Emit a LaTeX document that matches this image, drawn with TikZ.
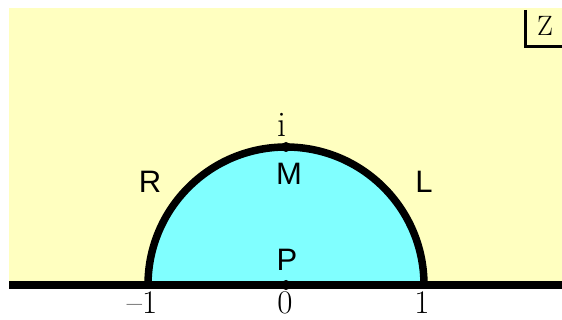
\documentclass[tikz,border=0pt]{standalone}
\usepackage{fontspec}
\newfontfamily\lblfont{Liberation Sans}
\definecolor{bgyellow}{RGB}{255,255,192}
\definecolor{diskcyan}{RGB}{128,255,255}
\begin{document}
\begin{tikzpicture}[x=1pt,y=-1pt,
  thick line/.style={line width=7.5pt},
  ptdot/.style={circle,fill=black,inner sep=0pt,minimum size=10pt},
  sanslbl/.style={font=\lblfont\fontsize{31}{31}\selectfont,inner sep=0pt},
  seriflbl/.style={font=\fontsize{36}{36}\selectfont,inner sep=0pt},
  numlbl/.style={font=\fontsize{33}{33}\selectfont,inner sep=0pt}]
\useasboundingbox (0,0) rectangle (562,320);
\fill[bgyellow] (9,8) rectangle (562,285);
\coordinate (C) at (286,285);
\fill[diskcyan] (148,285) arc[start angle=180,end angle=360,radius=138] -- cycle;
\draw[thick line] (148,285) arc[start angle=180,end angle=360,radius=138];
\coordinate (axL) at (9,285);
\coordinate (axR) at (562,285);
\draw[thick line] (axL) -- (axR);
\node[ptdot] (P) at (286,285) {};
\node[ptdot] (M) at (286,147) {};
\node[seriflbl,anchor=base] (ilbl) at (282,137) {i};
\node[sanslbl,anchor=base] (Mlbl) at (289,185) {M};
\node[sanslbl,anchor=base] (Plbl) at (287,271) {P};
\node[sanslbl,anchor=base] (Rlbl) at (150,193) {R};
\node[sanslbl,anchor=base] (Llbl) at (424,193) {L};
\node[numlbl,anchor=base] (m1) at (142,313) {–1};
\node[numlbl,anchor=base] (z0) at (285,313) {0};
\node[numlbl,anchor=base] (p1) at (422,313) {1};
\coordinate (zt) at (525,10);
\coordinate (zc) at (525,47);
\coordinate (zr) at (562,47);
\draw[line width=3pt] (zt) -- (zc) -- (zr);
\node[font=\fontsize{28}{28}\selectfont,inner sep=0pt,anchor=base] (Z) at (545,36) {Z};
\end{tikzpicture}
\end{document}
